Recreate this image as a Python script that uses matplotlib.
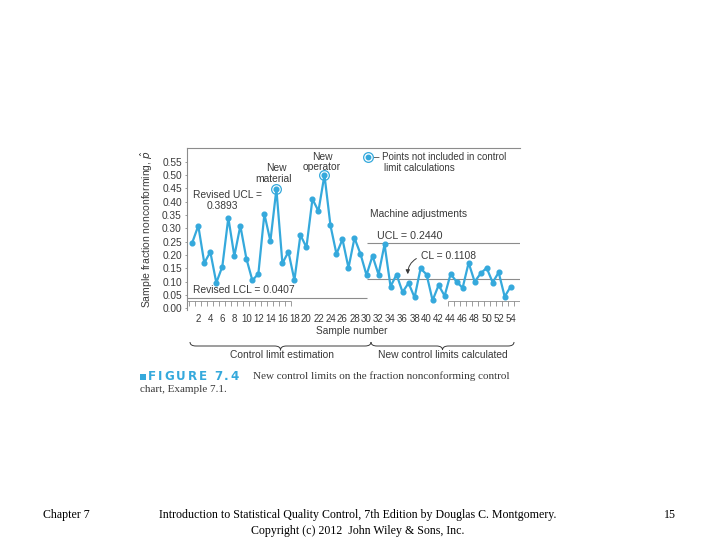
import numpy as np
import matplotlib
matplotlib.use("Agg")
import matplotlib.pyplot as plt
from matplotlib.path import Path
from matplotlib.patches import PathPatch, Rectangle

# ---------------- data ----------------
samples = list(range(1, 55))
p_hat = [0.247, 0.310, 0.170, 0.212, 0.096, 0.157, 0.340, 0.196, 0.310, 0.187,
         0.105, 0.130, 0.354, 0.252, 0.447, 0.169, 0.212, 0.106, 0.275, 0.229,
         0.410, 0.365, 0.500, 0.311, 0.204, 0.259, 0.152, 0.264, 0.204, 0.125,
         0.197, 0.127, 0.240, 0.082, 0.127, 0.061, 0.095, 0.041, 0.150, 0.127,
         0.030, 0.087, 0.047, 0.129, 0.100, 0.077, 0.171, 0.100, 0.131, 0.152,
         0.097, 0.135, 0.044, 0.082]
excluded = [15, 23]
revised_ucl = 0.3893
revised_lcl = 0.0407
new_ucl = 0.2440
new_cl = 0.1108
phase_split = 30
y_ticks = [0.00, 0.05, 0.10, 0.15, 0.20, 0.25, 0.30, 0.35, 0.40, 0.45, 0.50, 0.55]
x_ticks = list(range(2, 55, 2))

BLUE = "#35a9dc"
TXT = "#3a3a3a"
GRID = "#8c8c8c"

W, H = 720, 540
def fx(x): return x / W
def fy(y): return 1 - y / H

fig = plt.figure(figsize=(7.2, 5.4), dpi=100)
fig.patch.set_facecolor("white")

left, right, top, bottom = 186.7, 520, 147.7, 310
ax = fig.add_axes([fx(left), fy(bottom), fx(right) - fx(left), fy(top) - fy(bottom)])
ax.set_xlim(0.07, 55.55)
ax.set_ylim(-0.006, 0.6025)

for s in ["right", "bottom"]:
    ax.spines[s].set_visible(False)
for s in ["left", "top"]:
    ax.spines[s].set_color(GRID)
    ax.spines[s].set_linewidth(0.8)

SANS = "Liberation Sans"
ax.set_yticks(y_ticks)
ax.set_yticklabels([f"{v:.2f}" for v in y_ticks], fontsize=7.3, family=SANS, color=TXT)
ax.tick_params(axis="y", length=1.5, width=0.6, color=GRID, pad=2)
ax.set_xticks(x_ticks)
ax.set_xticklabels([str(v) for v in x_ticks], fontsize=7.0, family=SANS, color=TXT)
ax.tick_params(axis="x", length=0, pad=3)

# tick rows drawn inside the plot
tick_top, tick_bot = 0.027, 0.009
left_ticks = np.arange(0.5, 18, 1.0)
right_ticks = np.arange(43.5, 55, 1.0)
ax.vlines(left_ticks, tick_bot, tick_top, color=GRID, lw=0.6)
ax.vlines(right_ticks, tick_bot, tick_top, color=GRID, lw=0.6)
ax.hlines(tick_top, 0.07, left_ticks[-1], color=GRID, lw=0.6)
ax.hlines(tick_top, right_ticks[0], 55.55, color=GRID, lw=0.6)

# control limit lines
ax.hlines(revised_lcl, 0.07, phase_split, color=GRID, lw=0.8)
ax.hlines(new_ucl, phase_split, 55.55, color=GRID, lw=0.8)
ax.hlines(new_cl, phase_split, 55.55, color=GRID, lw=0.8)

# data
ax.plot(samples, p_hat, color=BLUE, lw=1.6, marker="o", ms=3.4, mfc=BLUE, mec=BLUE, zorder=3)
ex_y = [p_hat[samples.index(s)] for s in excluded]
ax.plot(excluded, ex_y, ls="none", marker="o", ms=7, mfc="none", mec=BLUE, mew=0.9, zorder=4)

ax.set_ylabel(r"Sample fraction nonconforming, $\hat{p}$", fontsize=7.5, family=SANS,
              color=TXT, labelpad=5)

fs = 7.4
ax.text(1.2, 0.425, "Revised UCL =", fontsize=fs, family=SANS, color=TXT, va="center")
ax.text(6.0, 0.385, f"{revised_ucl:.4f}", fontsize=fs, family=SANS, color=TXT, va="center", ha="center")
ax.text(1.2, 0.068, f"Revised LCL = {revised_lcl:.4f}", fontsize=fs, family=SANS, color=TXT, va="center")
ax.text(15.0, 0.525, "New", fontsize=fs, family=SANS, color=TXT, ha="center", va="center")
ax.text(14.5, 0.487, "material", fontsize=fs, family=SANS, color=TXT, ha="center", va="center")
ax.text(22.6, 0.568, "New", fontsize=fs, family=SANS, color=TXT, ha="center", va="center")
ax.text(22.6, 0.53, "operator", fontsize=fs, family=SANS, color=TXT, ha="center", va="center")
ax.text(30.5, 0.355, "Machine adjustments", fontsize=fs, family=SANS, color=TXT, va="center")
ax.text(31.7, 0.27, f"UCL = {new_ucl:.4f}", fontsize=fs + 0.3, family=SANS, color=TXT, va="center")
ax.text(39.0, 0.197, f"CL = {new_cl:.4f}", fontsize=fs, family=SANS, color=TXT, va="center")
ax.annotate("", xy=(36.9, 0.118), xytext=(38.7, 0.192),
            arrowprops=dict(arrowstyle="-|>", color=TXT, lw=0.7, mutation_scale=6,
                            connectionstyle="arc3,rad=0.35"))
# legend marker
ax.plot([30.3], [0.568], ls="none", marker="o", ms=7, mfc="none", mec=BLUE, mew=0.9, clip_on=False)
ax.plot([30.3], [0.568], ls="none", marker="o", ms=3.2, color=BLUE, clip_on=False)
ax.text(31.3, 0.568, "– Points not included in control", fontsize=7.0, family=SANS, color=TXT, va="center")
ax.text(32.9, 0.528, "limit calculations", fontsize=7.0, family=SANS, color=TXT, va="center")

# x label and braces (figure coords)
fig.text(fx(351.7), fy(330.5), "Sample number", fontsize=7.3, family=SANS, color=TXT, ha="center", va="center")

def brace(x0, x1, y, h):
    xm = (x0 + x1) / 2
    r = 6
    pts = [(x0, y - h), (x0, y), (x0 + r, y),
           (xm - r, y), (xm, y), (xm, y + h),
           (xm, y), (xm + r, y),
           (x1 - r, y), (x1, y), (x1, y - h)]
    codes = [Path.MOVETO, Path.CURVE3, Path.CURVE3,
             Path.LINETO, Path.CURVE3, Path.CURVE3,
             Path.CURVE3, Path.CURVE3,
             Path.LINETO, Path.CURVE3, Path.CURVE3]
    pts = [(fx(px), fy(py)) for px, py in pts]
    fig.patches.append(PathPatch(Path(pts, codes), transform=fig.transFigure,
                                 fill=False, color=TXT, lw=0.7))

brace(190, 371, 346, 4)
brace(371, 514, 346, 4)
fig.text(fx(281.5), fy(355.5), "Control limit estimation", fontsize=7.4, family=SANS, color=TXT, ha="center", va="center")
fig.text(fx(443), fy(355.5), "New control limits calculated", fontsize=7.4, family=SANS, color=TXT, ha="center", va="center")

# caption with letter spacing
fig.patches.append(Rectangle((fx(140), fy(380)), fx(6), 6 / H, transform=fig.transFigure,
                             color=BLUE, lw=0))
renderer = fig.canvas.get_renderer()
caption = "FIGURE 7.4"
cx = 148.0
for ch in caption:
    t = fig.text(fx(cx), fy(376.5), ch, fontsize=8.6, family="DejaVu Sans", weight="bold",
                 color=BLUE, va="center", ha="left")
    w = t.get_window_extent(renderer).width if ch != " " else 3.5
    cx += w + 1.9
SERIF = "Liberation Serif"
fig.text(fx(253), fy(376.5), "New control limits on the fraction nonconforming control",
         fontsize=8.0, family=SERIF, color=TXT, va="center")
fig.text(fx(140), fy(389.5), "chart, Example 7.1.", fontsize=8.0, family=SERIF, color=TXT, va="center")

# footer
fig.text(fx(66), fy(515), "Chapter 7", fontsize=8.6, family=SERIF, color="black", ha="center", va="center")
fig.text(fx(358), fy(515), "Introduction to Statistical Quality Control, 7th Edition by Douglas C. Montgomery.",
         fontsize=8.6, family=SERIF, color="black", ha="center", va="center")
fig.text(fx(358), fy(531), "Copyright (c) 2012  John Wiley & Sons, Inc.",
         fontsize=8.6, family=SERIF, color="black", ha="center", va="center")
fig.text(fx(670), fy(515), "15", fontsize=8.6, family=SERIF, color="black", ha="center", va="center")

fig.savefig("out.png", dpi=100, facecolor="white")
